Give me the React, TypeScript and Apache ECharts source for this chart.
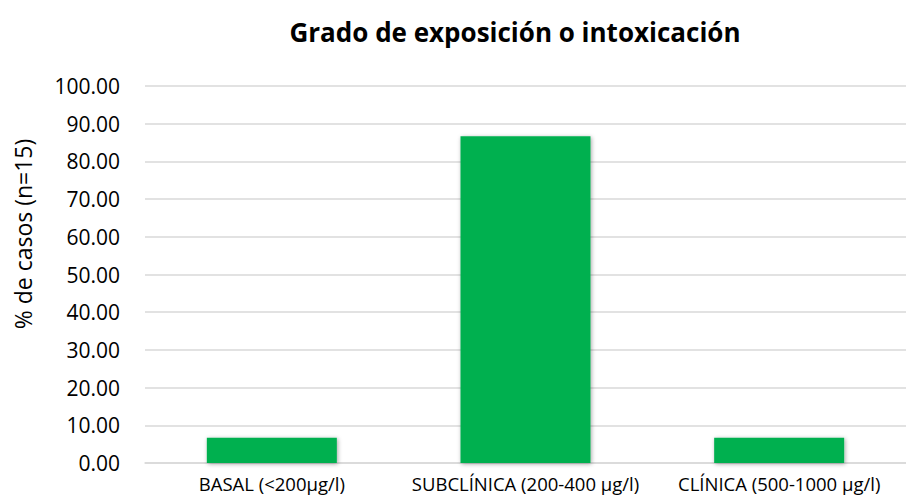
import React, { useEffect, useRef } from "react";
import * as echarts from "echarts";

const categories = ["BASAL (<200µg/l)", "SUBCLÍNICA (200-400 µg/l)", "CLÍNICA (500-1000 µg/l)"];
const values = [6.67, 86.67, 6.67];
const titleText = "Grado de exposición o intoxicación";
const yAxisName = "% de casos (n=15)";

export default function App() {
  const ref = useRef<HTMLDivElement>(null);
  useEffect(() => {
    if (!ref.current) return;
    const chart = echarts.init(ref.current, undefined, { renderer: "svg" });
    chart.setOption({
      animation: false,
      backgroundColor: "#ffffff",
      textStyle: { fontFamily: "Open Sans" },
      graphic: [
        {
          type: "text",
          x: 515,
          y: 32,
          style: {
            text: titleText,
            fontFamily: "Open Sans",
            fontWeight: "bold",
            fontSize: 26,
            fill: "#000000",
            textAlign: "center",
            textVerticalAlign: "middle",
          },
        },
        {
          type: "text",
          x: 23,
          y: 234,
          rotation: Math.PI / 2,
          style: {
            text: yAxisName,
            fontFamily: "Open Sans",
            fontSize: 23,
            fill: "#000000",
            textAlign: "center",
            textVerticalAlign: "middle",
          },
        },
      ],
      grid: { left: 145, right: -13, top: 86, bottom: 39, containLabel: false },
      xAxis: {
        type: "category",
        data: categories,
        axisLine: { show: true, lineStyle: { color: "#d9d9d9", width: 1.5 } },
        axisTick: { show: false },
        axisLabel: {
          color: "#000000",
          fontSize: 18.5,
          fontFamily: "Open Sans",
          margin: 11,
          interval: 0,
          hideOverlap: false,
        },
      },
      yAxis: {
        type: "value",
        min: 0,
        max: 100,
        interval: 10,
        axisLine: { show: false },
        axisTick: { show: false },
        splitLine: { lineStyle: { color: "#d9d9d9", width: 1.5 } },
        axisLabel: {
          color: "#000000",
          fontSize: 21,
          fontFamily: "Open Sans",
          margin: 25,
          formatter: (v: number) => v.toFixed(2),
        },
      },
      series: [
        {
          type: "bar",
          data: values,
          barWidth: 130,
          itemStyle: {
            color: "#00b050",
            shadowBlur: 4,
            shadowColor: "rgba(0,0,0,0.35)",
            shadowOffsetX: 1,
            shadowOffsetY: 1,
          },
        },
      ],
    });
    return () => chart.dispose();
  }, []);
  return <div ref={ref} style={{ width: 906, height: 502, position: "absolute", left: 0, top: 0 }} />;
}
